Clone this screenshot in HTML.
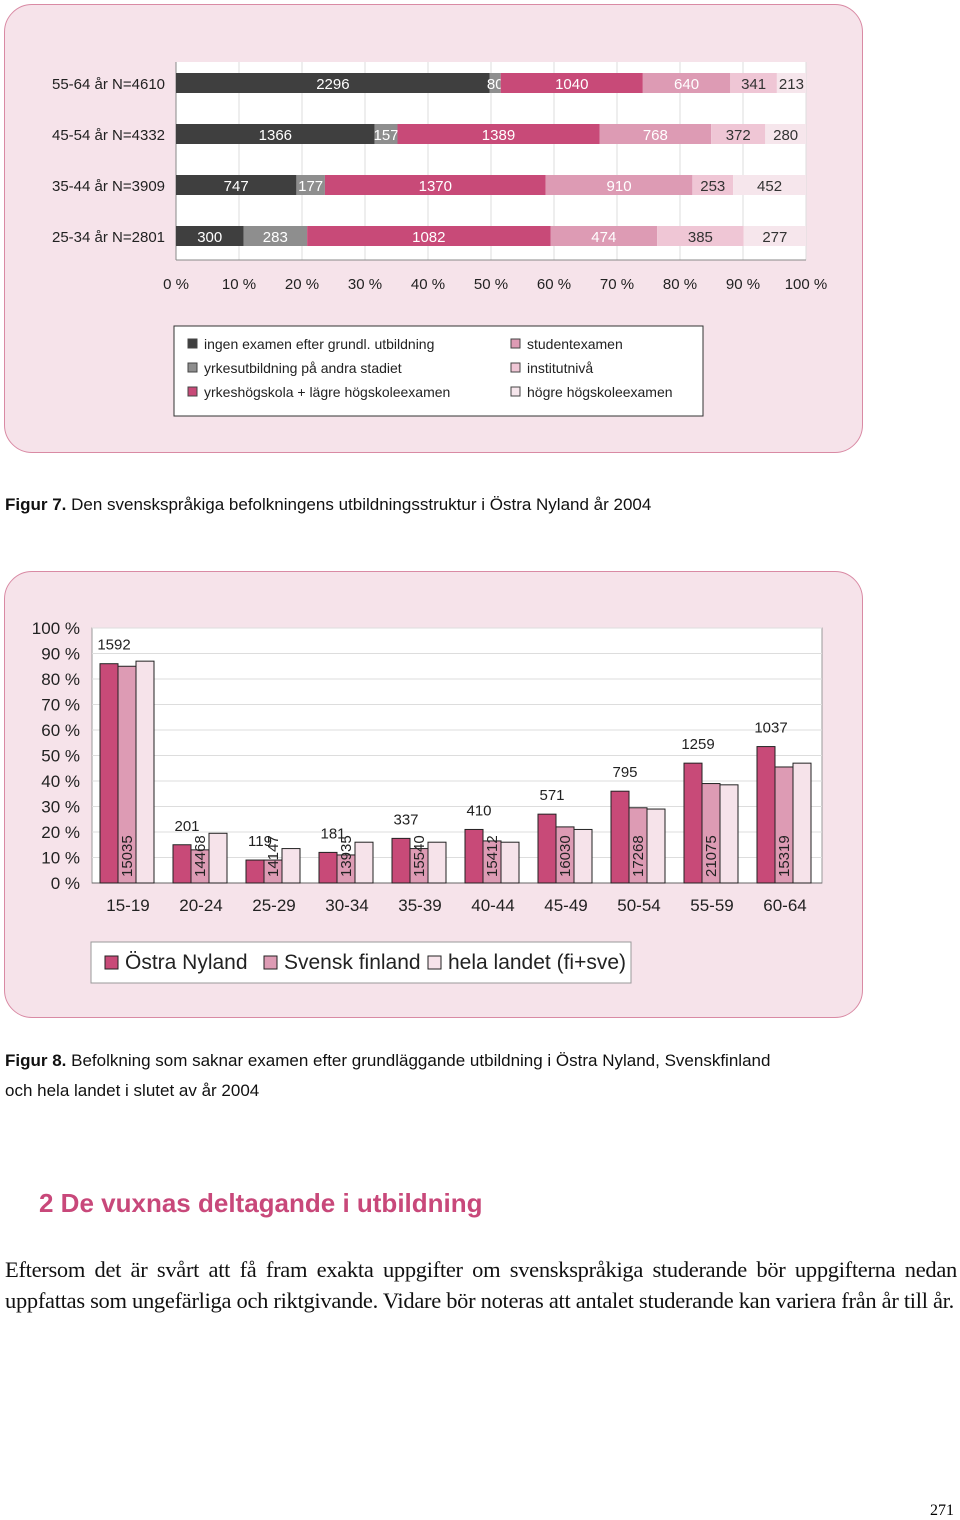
<!DOCTYPE html>
<html><head><meta charset="utf-8"><style>
body{margin:0;width:960px;height:1520px;background:#fff;font-family:"Liberation Sans",sans-serif;position:relative;overflow:hidden}
.panel{position:absolute;background:#f6e3ea;border:1.5px solid #d98aa4;border-radius:28px}
.t{position:absolute;white-space:nowrap}
</style></head><body>
<div class="panel" style="left:4px;top:4px;width:857px;height:447px"></div>
<div class="panel" style="left:4px;top:571px;width:857px;height:445px"></div>
<svg id="c1" width="960" height="460" style="position:absolute;left:0;top:0" font-family="Liberation Sans, sans-serif"></svg>
<svg id="c2" width="960" height="460" style="position:absolute;left:0;top:560px" font-family="Liberation Sans, sans-serif"></svg>
<div class="t" style="left:5px;top:495px;font-size:17px;color:#111"><b>Figur 7.</b> Den svenskspråkiga befolkningens utbildningsstruktur i Östra Nyland år 2004</div>
<div class="t" style="left:5px;top:1046px;font-size:17px;color:#111;line-height:30px"><b>Figur 8.</b> Befolkning som saknar examen efter grundläggande utbildning i Östra Nyland, Svenskfinland<br>och hela landet i slutet av år 2004</div>
<div class="t" style="left:39px;top:1188px;font-size:26px;font-weight:bold;color:#c8487a">2 De vuxnas deltagande i utbildning</div>
<div style="position:absolute;left:5px;top:1254px;width:952px;font-family:'Liberation Serif',serif;font-size:22.5px;line-height:31px;text-align:justify;color:#111;letter-spacing:-0.3px">Eftersom det är svårt att få fram exakta uppgifter om svenskspråkiga studerande bör uppgifterna nedan uppfattas som ungefärliga och riktgivande. Vidare bör noteras att antalet studerande kan variera från år till år.</div>
<div class="t" style="left:930px;top:1502px;font-size:16px;font-family:'Liberation Serif',serif">271</div>
<script>
const NS='http://www.w3.org/2000/svg';
function mk(svg,tag,a,txt){const e=document.createElementNS(NS,tag);for(const k in a)e.setAttribute(k,a[k]);if(txt!=null)e.textContent=txt;svg.appendChild(e);return e;}
// Chart 1 data
const rows1=['55-64 år N=4610','45-54 år N=4332','35-44 år N=3909','25-34 år N=2801'];
const s_ingen=[2296,1366,747,300];
const s_yrkes=[80,157,177,283];
const s_yh=[1040,1389,1370,1082];
const s_stud=[640,768,910,474];
const s_inst=[341,372,253,385];
const s_hogre=[213,280,452,277];
const ticks1=['0 %','10 %','20 %','30 %','40 %','50 %','60 %','70 %','80 %','90 %','100 %'];
const series1=[s_ingen,s_yrkes,s_yh,s_stud,s_inst,s_hogre];
const names1=['ingen examen efter grundl. utbildning','yrkesutbildning på andra stadiet','yrkeshögskola + lägre högskoleexamen','studentexamen','institutnivå','högre högskoleexamen'];
const cols1=['#3f3f3f','#8e8e8e','#c84a78','#dd9bb4','#efc6d5','#f6e6ec'];
const tcol1=['#fff','#fff','#fff','#fff','#333','#333'];
const c1=document.getElementById('c1');
const X1=p=>176+p*6.3, rowY=i=>83+i*51;
mk(c1,'rect',{x:176,y:62,width:630,height:198,fill:'#fff'});
for(let i=0;i<ticks1.length;i++){
 const g=mk(c1,'line',{x1:X1(i*10),x2:X1(i*10),y1:62,y2:260,stroke:'#ddd'});
 
 const t=mk(c1,'text',{x:X1(i*10),y:289,'font-size':15,'text-anchor':'middle',fill:'#222'},ticks1[i]);
 
}
mk(c1,'line',{x1:176,x2:176,y1:62,y2:260,stroke:'#888'});
mk(c1,'line',{x1:176,x2:806,y1:260,y2:260,stroke:'#888'});
rows1.forEach((r,i)=>{
 const tot=series1.reduce((a,s)=>a+s[i],0);let acc=0;
 const l=mk(c1,'text',{x:165,y:rowY(i)+6,'font-size':15,'text-anchor':'end',fill:'#222'},r);
 
 series1.forEach((s,k)=>{
  const x0=X1(acc/tot*100),w=s[i]/tot*630;acc+=s[i];
  const b=mk(c1,'rect',{x:x0,y:rowY(i)-10,width:w,height:20,fill:cols1[k]});
  
  const t=mk(c1,'text',{x:x0+w/2,y:rowY(i)+6,'font-size':15,'text-anchor':'middle',fill:tcol1[k]},s[i]);
  
 });
});
const lg=mk(c1,'rect',{x:174,y:326,width:529,height:90,fill:'#fff',stroke:'#333'});

names1.forEach((n,k)=>{
 const x=k<3?188:511,y=344+(k%3)*24;
 const s=mk(c1,'rect',{x:x,y:y-5,width:9,height:9,fill:cols1[k],stroke:'#444'});
 
 const t=mk(c1,'text',{x:x+16,y:y+5,'font-size':14,fill:'#222'},n);
 
});
// Chart 2 data
const cats2=['15-19','20-24','25-29','30-34','35-39','40-44','45-49','50-54','55-59','60-64'];
const ostra=[86,15,9,12,17.5,21,27,36,47,53.5];
const svensk=[85,13,9,11,13.5,16.5,22,29.5,39,45.5];
const hela=[87,19.5,13.5,16,16,16,21,29,38.5,47];
const countsOstra=[1592,201,119,181,337,410,571,795,1259,1037];
const countsSvensk=[15035,14468,14147,13935,15540,15412,16030,17268,21075,15319];
const ticks2=[0,10,20,30,40,50,60,70,80,90,100];
const c2=document.getElementById('c2');const oy=560;
const Y2=v=>883-oy-v*2.55, gx=i=>92+i*73;
mk(c2,'rect',{x:92,y:Y2(100),width:730,height:255,fill:'#fff',stroke:'#999'});
ticks2.forEach(v=>{
 const g=mk(c2,'line',{x1:92,x2:822,y1:Y2(v),y2:Y2(v),stroke:'#ddd'});
 
 const t=mk(c2,'text',{x:80,y:Y2(v)+6,'font-size':17,'text-anchor':'end',fill:'#222'},v+' %');
 
});
mk(c2,'line',{x1:92,x2:822,y1:Y2(0),y2:Y2(0),stroke:'#666'});
cats2.forEach((c,i)=>{
 const x=gx(i)+8;
 [[ostra,'#c84a78'],[svensk,'#dd9bb4'],[hela,'#f6e3ea']].forEach(([s,col],k)=>{
  const b=mk(c2,'rect',{x:x+k*18,y:Y2(s[i]),width:18,height:s[i]*2.55,fill:col,stroke:'#222','stroke-width':1});
  
 });
 const t=mk(c2,'text',{x:gx(i)+36,y:Y2(0)+28,'font-size':17,'text-anchor':'middle',fill:'#222'},c);
 
 const v=mk(c2,'text',{x:x+14,y:Y2(ostra[i])-14,'font-size':15,'text-anchor':'middle',fill:'#222'},countsOstra[i]);
 
 const r=mk(c2,'text',{x:0,y:0,'font-size':15,fill:'#222',transform:`translate(${x+32},${Y2(0)-6}) rotate(-90)`},countsSvensk[i]);
 
});
const lg2=mk(c2,'rect',{x:91,y:382,width:540,height:41,fill:'#fff',stroke:'#999'});

[['Östra Nyland','#c84a78',105],['Svensk finland','#dd9bb4',264],['hela landet (fi+sve)','#f6e3ea',428]].forEach(([n,col,x])=>{
 const s=mk(c2,'rect',{x:x,y:396,width:13,height:13,fill:col,stroke:'#222'});
 
 const t=mk(c2,'text',{x:x+20,y:409,'font-size':21,fill:'#222'},n);
 
});
</script>
</body></html>
